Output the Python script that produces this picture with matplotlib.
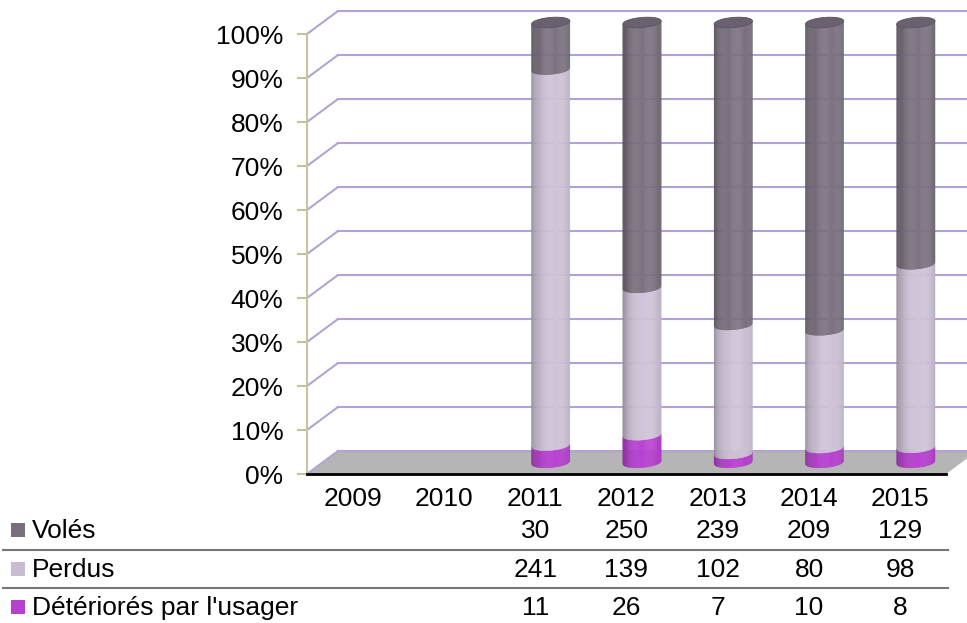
import numpy as np
import matplotlib
matplotlib.use("Agg")
import matplotlib.pyplot as plt
from matplotlib import transforms
from matplotlib.collections import PolyCollection
from matplotlib.patches import Polygon, Rectangle
from matplotlib.lines import Line2D

# --- data ---
years = ["2009", "2010", "2011", "2012", "2013", "2014", "2015"]
voles = [None, None, 30, 250, 239, 209, 129]
perdus = [None, None, 241, 139, 102, 80, 98]
deteriores = [None, None, 11, 26, 7, 10, 8]
series_names = ["Volés", "Perdus", "Détériorés par l'usager"]
series_colors = ["#786e7c", "#c9bcd1", "#b440cc"]

plt.rcParams["font.family"] = ["Liberation Sans", "DejaVu Sans"]
FS = 19
W, H = 967, 623
fig = plt.figure(figsize=(W / 100, H / 100), dpi=100)

# front plane of the 3D box
ax = fig.add_axes([307 / W, 149 / H, 639 / W, 440 / H])
ax.set_xlim(-0.5, 6.5)
ax.set_ylim(0, 100)
ax.patch.set_visible(False)
for s in ["top", "right"]:
    ax.spines[s].set_visible(False)
ax.spines["left"].set_color("#c9c29a")
ax.spines["left"].set_linewidth(1.5)
ax.spines["bottom"].set_color("black")
ax.spines["bottom"].set_linewidth(2)
ax.spines["bottom"].set_zorder(5)

ax.set_yticks(range(0, 101, 10))
ax.set_yticklabels([f"{v}%" for v in range(0, 101, 10)], fontsize=FS)
ax.tick_params(axis="y", length=7, width=1.5, color="#c9c29a", pad=10)
ax.set_xticks(range(len(years)))
ax.set_xticklabels(years, fontsize=FS)
ax.tick_params(axis="x", length=0, pad=9)

# depth offsets (back wall and middle of depth where the cylinders stand)
DX, DY = 31, 23
back = transforms.offset_copy(ax.transData, fig, x=DX, y=DY, units="dots")
mid = transforms.offset_copy(ax.transData, fig, x=DX / 2, y=DY / 2, units="dots")
ident = transforms.IdentityTransform()

# floor
f0 = ax.transData.transform([(-0.5, 0), (6.5, 0)])
b0 = back.transform([(6.5, 0), (-0.5, 0)])
ax.add_patch(Polygon(np.vstack([f0, b0]), closed=True, transform=ident,
                     facecolor="#b5b5b5", edgecolor="none", zorder=1,
                     clip_on=False))

# gridlines: side wall diagonals and back wall horizontals
grid_c = "#b3a3d3"
for v in range(0, 101, 10):
    p0 = ax.transData.transform((-0.5, v))
    p1 = back.transform((-0.5, v))
    ax.add_line(Line2D([p0[0], p1[0]], [p0[1], p1[1]], transform=ident,
                       color=grid_c, lw=1.5, zorder=2, clip_on=False))
    ax.plot([-0.5, 7.5], [v, v], transform=back, color=grid_c, lw=1.5,
            clip_on=False, zorder=2)


def shade(hex_color, u):
    base = np.array(matplotlib.colors.to_rgb(hex_color))
    up = np.clip((u - 0.2) / 1.2, -1, 1)
    b = 0.66 + 0.38 * np.sqrt(1 - up ** 2)
    return np.clip(base * b, 0, 1)


HALF_W = 0.21
E = 1.15
TILT = 0.35
N = 36
u = np.linspace(-1, 1, N + 1)
um = (u[:-1] + u[1:]) / 2
ell = E * np.sqrt(1 - u ** 2)

for i in range(len(years)):
    vals = [deteriores[i], perdus[i], voles[i]]
    if vals[0] is None:
        continue
    total = sum(vals)
    cum = np.concatenate([[0], np.cumsum(vals) / total * 100])
    colors = [series_colors[2], series_colors[1], series_colors[0]]
    xs = i + u * HALF_W
    for k in range(3):
        a, b = cum[k], cum[k + 1]
        bot = a - ell + TILT * u
        top = b - ell + TILT * u
        polys = []
        for j in range(N):
            polys.append([(xs[j], bot[j]), (xs[j + 1], bot[j + 1]),
                          (xs[j + 1], top[j + 1]), (xs[j], top[j])])
        pc = PolyCollection(polys, facecolors=[shade(colors[k], v) for v in um],
                            edgecolors="face", linewidths=0.3,
                            transform=mid, zorder=3 + k * 0.01, clip_on=False)
        ax.add_collection(pc)
    # top cap
    th = np.linspace(0, 2 * np.pi, 80)
    cap = np.column_stack([i + HALF_W * np.cos(th),
                           100 + E * np.sin(th) + TILT * np.cos(th)])
    ax.add_patch(Polygon(cap, closed=True, transform=mid, facecolor="#6a616f",
                         edgecolor="#5a535f", lw=0.6, zorder=3.1, clip_on=False))

# data table
tab = transforms.blended_transform_factory(ax.transData, fig.transFigure)
rows = [voles, perdus, deteriores]
baselines = [538, 577, 615]
for r, (vals, name, col, yb) in enumerate(zip(rows, series_names, series_colors, baselines)):
    for i, v in enumerate(vals):
        if v is not None:
            fig.text(i, 1 - yb / H, str(v), transform=tab, ha="center",
                     va="baseline", fontsize=FS)
    fig.text(32 / W, 1 - yb / H, name, ha="left", va="baseline", fontsize=FS)
    fig.add_artist(Rectangle((11 / W, 1 - (yb - 1) / H), 14 / W, 14 / H,
                             transform=fig.transFigure, facecolor=col,
                             edgecolor="none"))
for yl in [550, 588]:
    fig.add_artist(Line2D([3 / W, 948 / W], [1 - yl / H, 1 - yl / H],
                          transform=fig.transFigure, color="#777777", lw=1.5))

fig.savefig("out.png", dpi=100)
